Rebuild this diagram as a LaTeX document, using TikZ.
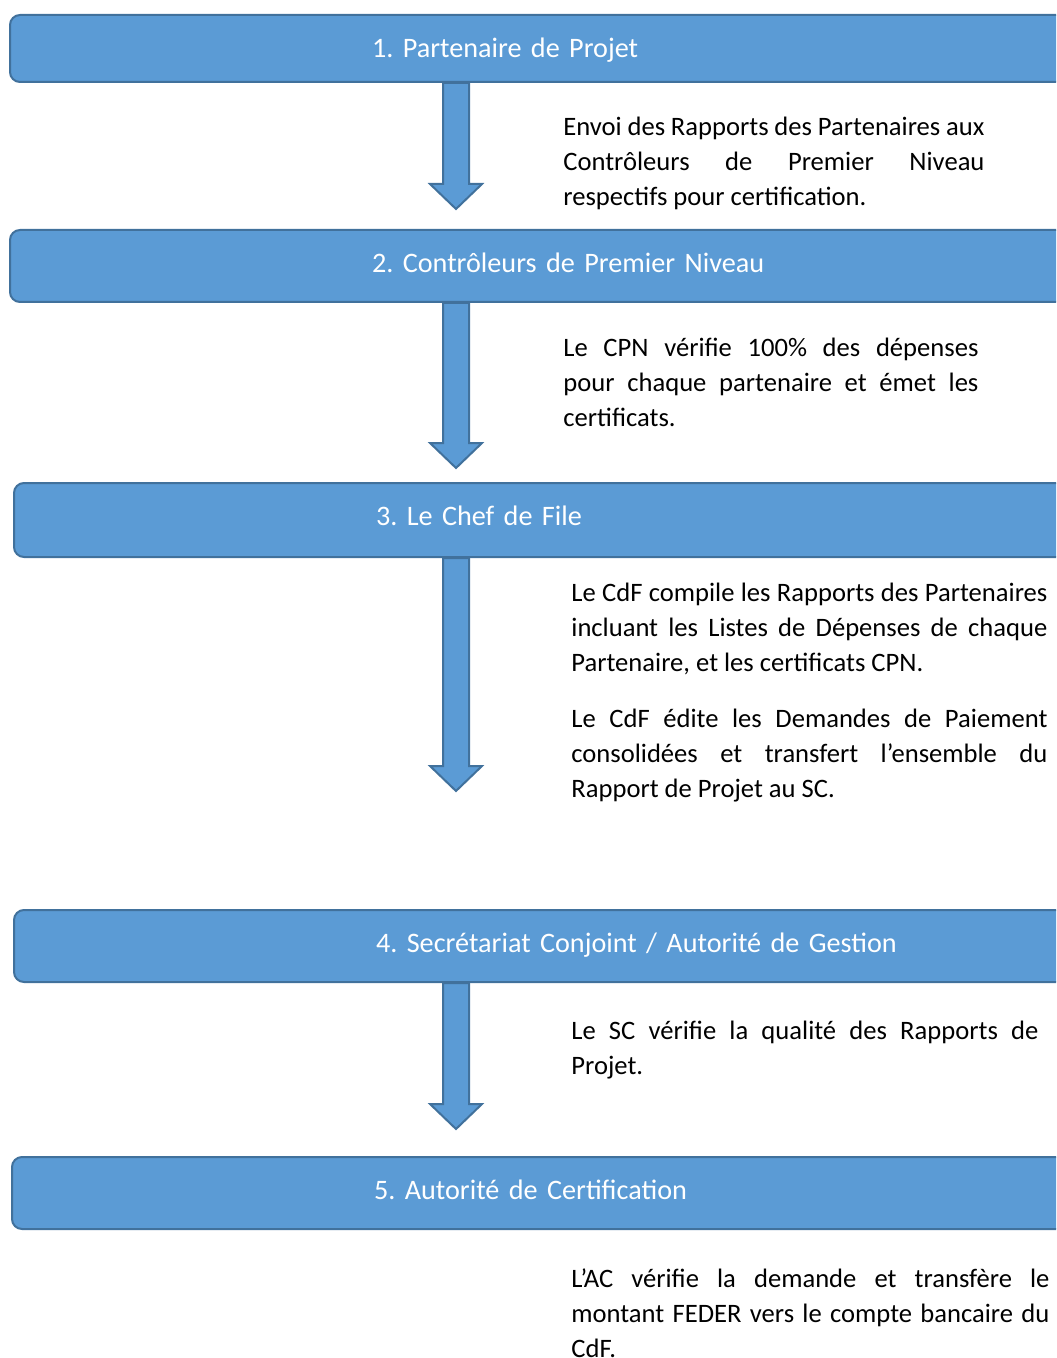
\documentclass[tikz,border=0pt]{standalone}
\usepackage{fontspec}
\setmainfont{Carlito}
\usepackage{tikz}
\usetikzlibrary{calc}
\frenchspacing
\definecolor{phasefill}{HTML}{5B9BD5}
\definecolor{phaseline}{HTML}{41719C}
\tikzstyle{phase} = [rectangle, rounded corners=5pt, draw=phaseline, line width=1pt, fill=phasefill, anchor=north west, minimum height=36pt, text width=300pt, align=left, inner xsep=181pt, text height=10pt, text depth=3.5pt, text=white, font=\fontsize{14.1}{16}\selectfont]
\tikzstyle{note} = [anchor=north west, align=justify, inner sep=0pt, font=\fontsize{13.3}{17.5}\selectfont]
\tikzstyle{blockarrow} = [draw=phaseline, line width=1pt, fill=phasefill, line join=miter]
\newcommand{\flowarrow}[2]{%
  \draw [blockarrow] let \p1=(#1.south), \p2=(#2) in
    (\x2-6.5pt,\y1) -- (\x2-6.5pt,\y2+12.5pt) -- (\x2-13pt,\y2+12.5pt) -- (\x2,\y2)
    -- (\x2+13pt,\y2+12.5pt) -- (\x2+6.5pt,\y2+12.5pt) -- (\x2+6.5pt,\y1) -- cycle;}

\begin{document}
\begin{tikzpicture}[x=0.5pt, y=-0.5pt]
        \useasboundingbox (0,0) rectangle (1056,1358);
        \clip (0,0) rectangle (1056,1358);
        \node (p1) [phase, minimum height=33.5pt, text depth=1pt] at (9,14) {1. Partenaire de Projet};
        \node (p2) [phase] at (9,229) {2. Contrôleurs de Premier Niveau};
        \node (p3) [phase, minimum height=37pt, text depth=4.5pt] at (13,482) {3. Le Chef de File};
        \node (p4) [phase] at (13,909) {4. Secrétariat Conjoint / Autorité de Gestion};
        \node (p5) [phase] at (11,1156) {5. Autorité de Certification};
        \coordinate (tip1) at (456,209);
        \coordinate (tip2) at (456,468);
        \coordinate (tip3) at (456,791);
        \coordinate (tip4) at (456,1129);
        \flowarrow{p1}{tip1}
        \flowarrow{p2}{tip2}
        \flowarrow{p3}{tip3}
        \flowarrow{p4}{tip4}
        \node (n1) [note, text width=210.5pt] at (563,117) {Envoi des Rapports des Partenaires aux\linebreak Contrôleurs de Premier Niveau\linebreak respectifs pour certification.};
        \node (n2) [note, text width=207.5pt] at (563,338) {Le CPN vérifie 100\% des dépenses\linebreak pour chaque partenaire et émet les\linebreak certificats.};
        \node (n3) [note, text width=238pt] at (571,583) {Le CdF compile les Rapports des Partenaires\linebreak incluant les Listes de Dépenses de chaque\linebreak Partenaire, et les certificats CPN.};
        \node (n3b) [note, text width=238pt] at (571,709) {Le CdF édite les Demandes de Paiement\linebreak consolidées et transfert l’ensemble du\linebreak Rapport de Projet au SC.};
        \node (n4) [note, text width=233.5pt] at (571,1021) {Le SC vérifie la qualité des Rapports de\linebreak Projet.};
        \node (n5) [note, text width=239pt] at (571,1268) {L’AC vérifie la demande et transfère le\linebreak montant FEDER vers le compte bancaire du\linebreak CdF.};
      \end{tikzpicture}
\end{document}
